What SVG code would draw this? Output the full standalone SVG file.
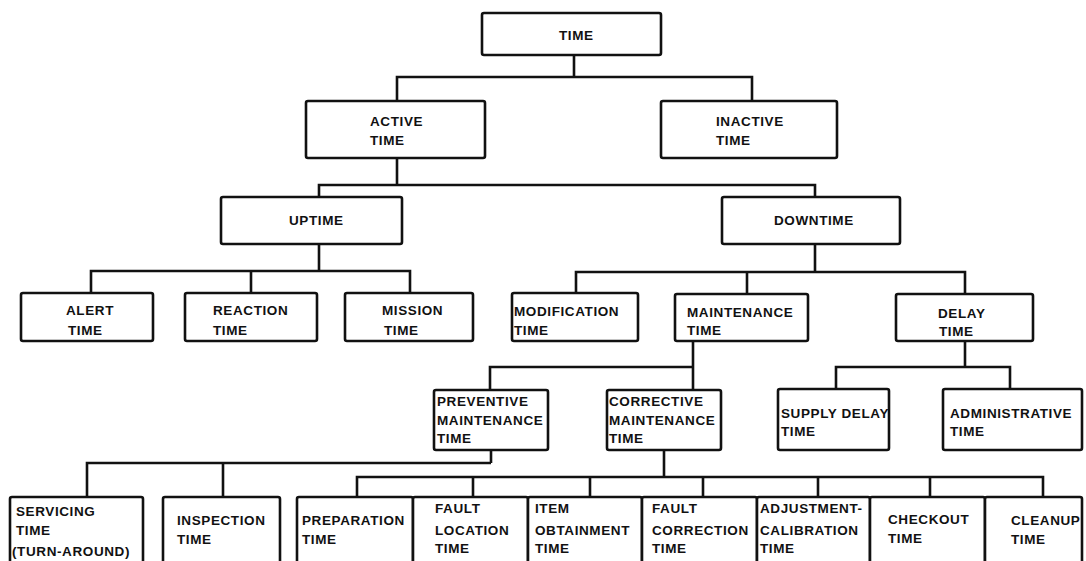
<svg xmlns="http://www.w3.org/2000/svg" width="1086" height="561" viewBox="0 0 1086 561">
  <style>
    .box { fill: #ffffff; stroke: #111111; stroke-width: 2.6; }
    .link { fill: none; stroke: #111111; stroke-width: 2.6; stroke-linejoin: miter; }
    text { font-family: "Liberation Sans", Arial, sans-serif; font-weight: bold; font-size: 13.5px; letter-spacing: 0.6px; fill: #111111; }
  </style>
  <rect width="1086" height="561" fill="#ffffff"/>

  <!-- tree connectors -->
  <g id="connectors">
    <path class="link" d="M574,55 V77 M397,101 V77 H752 V101"/>
    <path class="link" d="M397,158 V185 M319,197 V185 H815 V197"/>
    <path class="link" d="M319,244 V271 M91,293 V271 H410 V293 M251,271 V293"/>
    <path class="link" d="M815,244 V272 M576,293 V272 H965 V293 M747,272 V293"/>
    <path class="link" d="M693,341 V390 M490,390 V367 H693"/>
    <path class="link" d="M965,341 V367 M836,389 V367 H1010 V389"/>
    <path class="link" d="M491,450 V463 M87,497 V463 H491 M223,463 V497"/>
    <path class="link" d="M664,450 V477 M357,497 V477 H1043 V497 M473,477 V497 M590,477 V497 M703,477 V497 M818,477 V497 M930,477 V497"/>
  </g>

  <!-- level 0 -->
  <g id="time">
    <rect class="box" x="482" y="13" width="179" height="42" rx="2"/>
    <text x="559" y="40">TIME</text>
  </g>

  <!-- level 1 -->
  <g id="active-time">
    <rect class="box" x="306" y="101" width="179" height="57" rx="2"/>
    <text x="370" y="126">ACTIVE</text>
    <text x="370" y="145">TIME</text>
  </g>
  <g id="inactive-time">
    <rect class="box" x="661" y="101" width="176" height="57" rx="2"/>
    <text x="716" y="126">INACTIVE</text>
    <text x="716" y="145">TIME</text>
  </g>

  <!-- level 2 -->
  <g id="uptime">
    <rect class="box" x="221" y="197" width="181" height="47" rx="2"/>
    <text x="289" y="225">UPTIME</text>
  </g>
  <g id="downtime">
    <rect class="box" x="722" y="197" width="178" height="47" rx="2"/>
    <text x="774" y="225">DOWNTIME</text>
  </g>

  <!-- level 3 -->
  <g id="alert-time">
    <rect class="box" x="21" y="293" width="132" height="48" rx="2"/>
    <text x="66" y="315">ALERT</text>
    <text x="68" y="335">TIME</text>
  </g>
  <g id="reaction-time">
    <rect class="box" x="185" y="293" width="132" height="48" rx="2"/>
    <text x="213" y="315">REACTION</text>
    <text x="213" y="335">TIME</text>
  </g>
  <g id="mission-time">
    <rect class="box" x="345" y="293" width="128" height="48" rx="2"/>
    <text x="382" y="315">MISSION</text>
    <text x="384" y="335">TIME</text>
  </g>
  <g id="modification-time">
    <rect class="box" x="512" y="293" width="126" height="48" rx="2"/>
    <text x="514" y="316">MODIFICATION</text>
    <text x="514" y="335">TIME</text>
  </g>
  <g id="maintenance-time">
    <rect class="box" x="675" y="294" width="133" height="47" rx="2"/>
    <text x="687" y="317">MAINTENANCE</text>
    <text x="687" y="335">TIME</text>
  </g>
  <g id="delay-time">
    <rect class="box" x="896" y="294" width="137" height="47" rx="2"/>
    <text x="938" y="318">DELAY</text>
    <text x="939" y="336">TIME</text>
  </g>

  <!-- level 4 -->
  <g id="preventive-maintenance-time">
    <rect class="box" x="434" y="390" width="114" height="60" rx="2"/>
    <text x="437" y="406">PREVENTIVE</text>
    <text x="437" y="425">MAINTENANCE</text>
    <text x="437" y="443">TIME</text>
  </g>
  <g id="corrective-maintenance-time">
    <rect class="box" x="607" y="390" width="114" height="60" rx="2"/>
    <text x="609" y="406">CORRECTIVE</text>
    <text x="609" y="425">MAINTENANCE</text>
    <text x="609" y="443">TIME</text>
  </g>
  <g id="supply-delay-time">
    <rect class="box" x="778" y="389" width="111" height="61" rx="2"/>
    <text x="781" y="418">SUPPLY DELAY</text>
    <text x="781" y="436">TIME</text>
  </g>
  <g id="administrative-time">
    <rect class="box" x="943" y="389" width="139" height="61" rx="2"/>
    <text x="950" y="418">ADMINISTRATIVE</text>
    <text x="950" y="436">TIME</text>
  </g>

  <!-- level 5 (boxes run off the bottom edge) -->
  <g id="servicing-time">
    <rect class="box" x="10" y="497" width="133" height="80" rx="2"/>
    <text x="16" y="516">SERVICING</text>
    <text x="16" y="535">TIME</text>
    <text x="12" y="556">(TURN-AROUND)</text>
  </g>
  <g id="inspection-time">
    <rect class="box" x="163" y="497" width="117" height="80" rx="2"/>
    <text x="177" y="525">INSPECTION</text>
    <text x="177" y="544">TIME</text>
  </g>
  <g id="preparation-time">
    <rect class="box" x="297" y="497" width="116" height="80" rx="2"/>
    <text x="302" y="525">PREPARATION</text>
    <text x="302" y="544">TIME</text>
  </g>
  <g id="fault-location-time">
    <rect class="box" x="413" y="497" width="115" height="80" rx="2"/>
    <text x="435" y="513">FAULT</text>
    <text x="435" y="535">LOCATION</text>
    <text x="435" y="553">TIME</text>
  </g>
  <g id="item-obtainment-time">
    <rect class="box" x="528" y="497" width="114" height="80" rx="2"/>
    <text x="535" y="513">ITEM</text>
    <text x="535" y="535">OBTAINMENT</text>
    <text x="535" y="553">TIME</text>
  </g>
  <g id="fault-correction-time">
    <rect class="box" x="642" y="497" width="115" height="80" rx="2"/>
    <text x="652" y="513">FAULT</text>
    <text x="652" y="535">CORRECTION</text>
    <text x="652" y="553">TIME</text>
  </g>
  <g id="adjustment-calibration-time">
    <rect class="box" x="757" y="497" width="113" height="80" rx="2"/>
    <text x="760" y="513">ADJUSTMENT-</text>
    <text x="760" y="535">CALIBRATION</text>
    <text x="760" y="553">TIME</text>
  </g>
  <g id="checkout-time">
    <rect class="box" x="870" y="497" width="115" height="80" rx="2"/>
    <text x="888" y="524">CHECKOUT</text>
    <text x="888" y="543">TIME</text>
  </g>
  <g id="cleanup-time">
    <rect class="box" x="985" y="497" width="97" height="80" rx="2"/>
    <text x="1011" y="525">CLEANUP</text>
    <text x="1011" y="544">TIME</text>
  </g>
</svg>
